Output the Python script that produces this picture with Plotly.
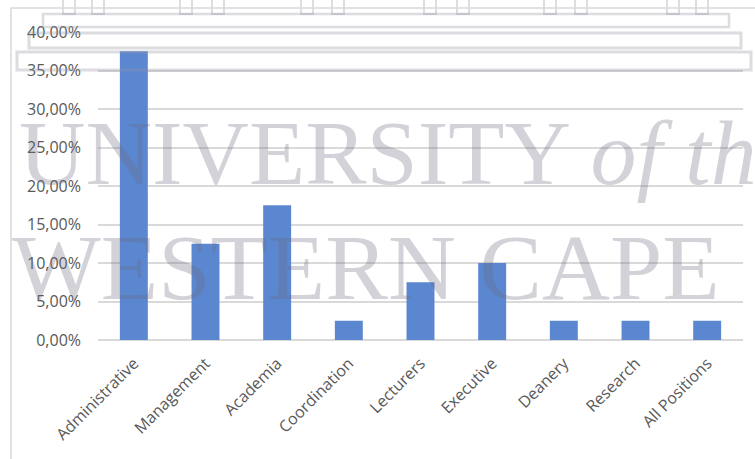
import plotly.graph_objects as go

# data
positions = ['Administrative', 'Management', 'Academia', 'Coordination', 'Lecturers',
             'Executive', 'Deanery', 'Research', 'All Positions']
shares = [0.375, 0.125, 0.175, 0.025, 0.075, 0.10, 0.025, 0.025, 0.025]
y_ticks = [0, 0.05, 0.10, 0.15, 0.20, 0.25, 0.30, 0.35, 0.40]

W, H = 755, 459
L, R, T, B = 98, 12, 32, 119
pw, ph = W - L - R, H - T - B


def px_x(x):
    return (x - L) / pw


def px_y(y):
    return 1 - (y - T) / ph


def px_rect(x0, y0, x1, y1, color, width):
    fig.add_shape(type='rect', xref='paper', yref='paper', x0=px_x(x0), x1=px_x(x1),
                  y0=px_y(y1), y1=px_y(y0), line=dict(color=color, width=width))


fig = go.Figure(go.Bar(x=positions, y=shares, marker=dict(color='#5B87D0', line=dict(width=0))))

# watermark of the scanned page (university crest + name)
wm_color = 'rgba(105,105,125,0.30)'
fig.add_annotation(x=px_x(17), y=px_y(206), xref='paper', yref='paper', xanchor='left', yanchor='bottom',
                   text='UNIVERSITY <i>of the</i>', showarrow=False,
                   font=dict(family='Liberation Serif', size=92, color=wm_color))
fig.add_annotation(x=px_x(10), y=px_y(321), xref='paper', yref='paper', xanchor='left', yanchor='bottom',
                   text='WESTERN CAPE', showarrow=False,
                   font=dict(family='Liberation Serif', size=94, color=wm_color))

line_c = 'rgba(150,150,165,0.33)'
px_rect(43, 14, 729, 27, line_c, 2.5)
px_rect(29, 33, 741, 48, line_c, 3)
px_rect(17, 52, 751, 70, line_c, 3)
for gx0, gx1 in [(63, 104), (180, 224), (301, 344), (424, 469), (544, 587), (667, 708)]:
    px_rect(gx0, -4, gx0 + 12, 14, line_c, 2)
    px_rect(gx1 - 12, -4, gx1, 14, line_c, 2)

# chart frame
fig.add_shape(type='path', xref='paper', yref='paper',
              path=f'M {px_x(11)},{px_y(470)} L {px_x(11)},{px_y(8)} L {px_x(770)},{px_y(8)}',
              line=dict(color='#D9D9D9', width=1.5))

fig.update_layout(
    width=W, height=H,
    margin=dict(l=L, r=R, t=T, b=B),
    plot_bgcolor='white', paper_bgcolor='white',
    separators=',.',
    bargap=0.61,
    showlegend=False,
    font=dict(family='Open Sans', size=16, color='#595959'),
)
fig.update_xaxes(tickangle=-45, showgrid=False, showline=False, ticks='',
                 tickfont=dict(size=16), ticklabelstandoff=10)
fig.update_yaxes(range=[0, 0.4], tickvals=y_ticks, tickformat='.2%', showgrid=True,
                 gridcolor='#D9D9D9', gridwidth=1.5, zeroline=True, zerolinecolor='#D9D9D9',
                 zerolinewidth=2, ticks='', ticklabelstandoff=16)

fig.write_html('out.html', config={'displayModeBar': False},
               post_script="document.body.style.margin='0';")
